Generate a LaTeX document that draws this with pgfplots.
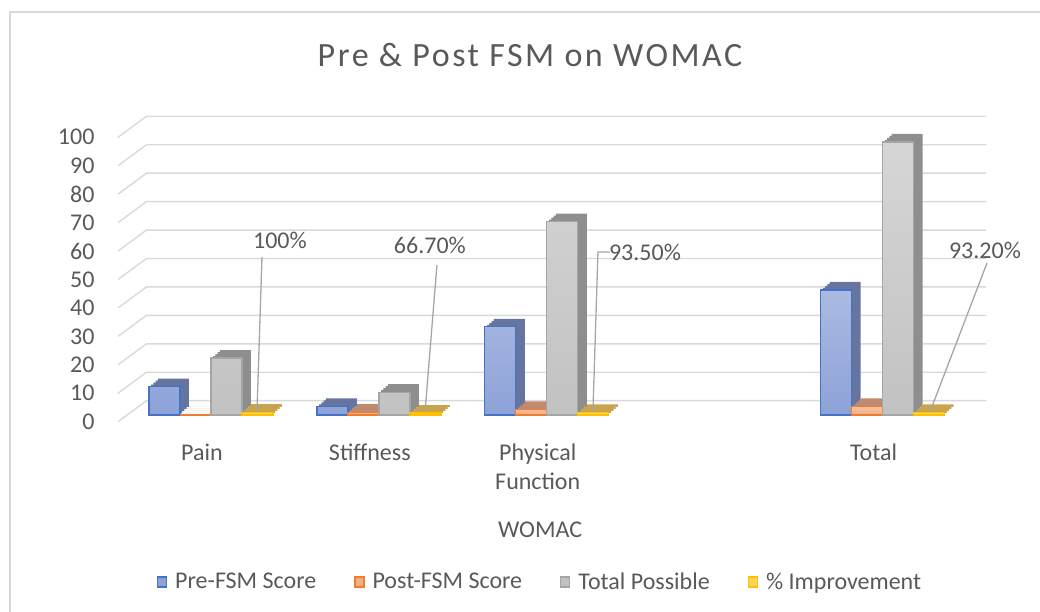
\documentclass[border=0pt]{standalone}
\usepackage{fontspec}
\setmainfont{Carlito}
\newfontfamily\titlefont[LetterSpace=7.5]{Carlito}
\usepackage{pgfplots}
\usepackage{pgfplotstable}
\pgfplotsset{compat=1.18}
\definecolor{txt}{HTML}{595959}
\definecolor{bordc}{HTML}{D9D9D9}
\definecolor{gridc}{HTML}{D9D9D9}
\definecolor{leadc}{HTML}{A6A6A6}
\definecolor{preE}{HTML}{4472C4}
\definecolor{preT}{HTML}{AABAE2}
\definecolor{preB}{HTML}{8DA2D8}
\definecolor{preS}{HTML}{65759F}
\definecolor{postE}{HTML}{ED7D31}
\definecolor{postT}{HTML}{F8C3A2}
\definecolor{postB}{HTML}{F4AD80}
\definecolor{postS}{HTML}{C08A6E}
\definecolor{totE}{HTML}{A5A5A5}
\definecolor{totT}{HTML}{D6D6D6}
\definecolor{totB}{HTML}{C2C2C2}
\definecolor{totS}{HTML}{8E8E8E}
\definecolor{impE}{HTML}{FFC000}
\definecolor{impT}{HTML}{FFDA70}
\definecolor{impB}{HTML}{FFD35A}
\definecolor{impS}{HTML}{C9A44C}

\pgfplotstableread{
x pre post total imp
0 10 0 20 1
1 3 1 8 0.667
2 31 2 68 0.935
4 44 3 96 0.932
}\womac

\newcommand{\lblfont}{\fontsize{24}{29}\selectfont}
% depth of the pseudo-3D bars: filled copies stepped back and up
\newcommand{\sbars}[3]{%
  \pgfplotsinvokeforeach{1,2,3,4}{%
    \addplot[ybar, bar shift=#2, forget plot, fill=#1, draw=none, xshift=##1*2.25pt, yshift=##1*2pt] table[x=x,y=#3]{\womac};
  }%
}

\begin{document}
\begin{tikzpicture}
\path[use as bounding box] (0,0) rectangle (1040pt,612pt);
\draw[bordc, line width=2pt] (9.5pt,0pt) -- (9.5pt,600pt) -- (1040pt,600pt);
\node[text=txt, font=\titlefont\fontsize{34}{40}\selectfont] at (530pt,557pt) {Pre \& Post FSM on WOMAC};
\begin{axis}[
  at={(127pt,197pt)}, anchor=south west,
  scale only axis, width=839.5pt, height=284.4pt,
  xmin=-0.5, xmax=4.5, ymin=0, ymax=100,
  clip=false,
  axis line style={draw=none},
  major tick style={draw=none},
  xtick={0,1,2,4},
  xticklabels={Pain,Stiffness,Physical\\Function,Total},
  ytick={0,10,...,100},
  tick label style={font=\lblfont, text=txt},
  xticklabel style={align=center, anchor=north, yshift=-25pt, xshift=-9pt},
  yticklabel style={xshift=-29pt, yshift=-6.7pt},
  /pgf/number format/assume math mode=true,
  xlabel={WOMAC},
  xlabel style={at={(axis description cs:0.492,-0.404)}, anchor=center, font=\lblfont, text=txt},
  legend columns=4,
  legend image code/.code={\draw[#1] (0pt,-5pt) rectangle (9pt,5pt);},
  legend style={draw=none, fill=none, at={(axis description cs:0.492,-0.587)}, anchor=center,
    font=\lblfont, text=txt, column sep=6pt,
    /tikz/every even column/.append style={column sep=36pt}},
  bar width=31pt,
]
\pgfplotsinvokeforeach{0,10,...,100}{
  \draw[gridc, line width=1.4pt] ([xshift=-9pt,yshift=-6.7pt]axis cs:-0.5,#1) -- ([xshift=19.5pt,yshift=14.3pt]axis cs:-0.5,#1) -- ([xshift=19.5pt,yshift=14.3pt]axis cs:4.5,#1);
}
\addlegendimage{fill=preB, draw=preE, line width=1.3pt}
\addlegendentry{Pre-FSM Score}
\addlegendimage{fill=postB, draw=postE, line width=1.3pt}
\addlegendentry{Post-FSM Score}
\addlegendimage{fill=totB, draw=totE, line width=1.3pt}
\addlegendentry{Total Possible}
\addlegendimage{fill=impB, draw=impE, line width=1.3pt}
\addlegendentry{\% Improvement}

\sbars{preS}{-46.5pt}{pre}
\addplot[ybar, bar shift=-46.5pt, forget plot, top color=preT, bottom color=preB, draw=preE, line width=1.3pt] table[x=x,y=pre]{\womac};
\sbars{postS}{-15.5pt}{post}
\addplot[ybar, bar shift=-15.5pt, forget plot, top color=postT, bottom color=postB, draw=postE, line width=1.3pt] table[x=x,y=post]{\womac};
\sbars{totS}{15.5pt}{total}
\addplot[ybar, bar shift=15.5pt, forget plot, top color=totT, bottom color=totB, draw=totE, line width=1.3pt] table[x=x,y=total]{\womac};
\sbars{impS}{46.5pt}{imp}
\addplot[ybar, bar shift=46.5pt, forget plot, top color=impT, bottom color=impB, draw=impE, line width=1.3pt] table[x=x,y=imp]{\womac};

\draw[leadc, line width=1.3pt] (axis cs:0.304,55.6) -- (axis cs:0.274,1.05);
\node[text=txt, font=\lblfont] at (axis cs:0.411,61.5) {100\%};
\draw[leadc, line width=1.3pt] (axis cs:1.346,52.7) -- (axis cs:1.275,1.05);
\node[text=txt, font=\lblfont] at (axis cs:1.304,59.8) {66.70\%};
\draw[leadc, line width=1.3pt] (axis cs:2.376,57.3) -- (axis cs:2.305,57.3) -- (axis cs:2.275,1.05);
\node[text=txt, font=\lblfont] at (axis cs:2.585,57.0) {93.50\%};
\draw[leadc, line width=1.3pt] (axis cs:4.622,53.4) -- (axis cs:4.282,1.05);
\node[text=txt, font=\lblfont] at (axis cs:4.610,58.0) {93.20\%};
\end{axis}
\end{tikzpicture}
\end{document}
